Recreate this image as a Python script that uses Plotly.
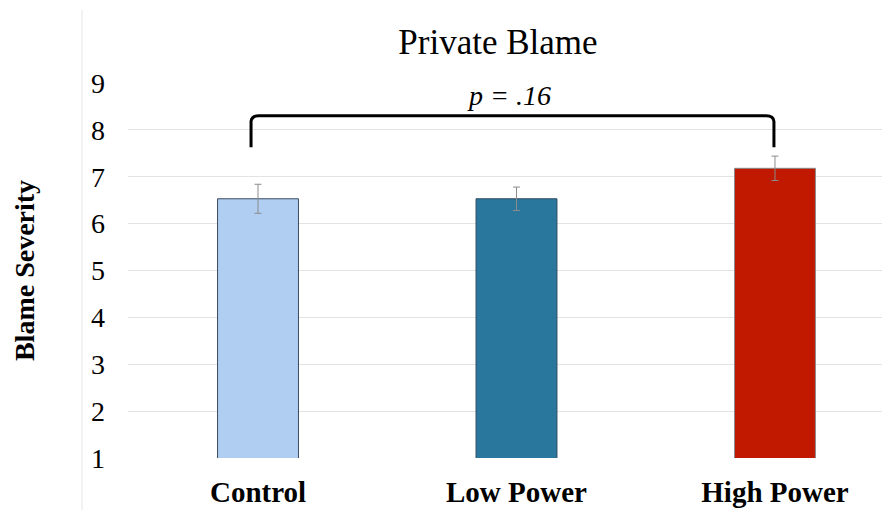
import plotly.graph_objects as go

categories = ["Control", "Low Power", "High Power"]
means = [6.53, 6.53, 7.18]
errors = [0.31, 0.25, 0.26]
bar_colors = ["#AFCEF2", "#2A779E", "#C01900"]
bar_lines = ["#3B4A5E", "#2F4A5E", "#8A8A8A"]
y_ticks = [1, 2, 3, 4, 5, 6, 7, 8, 9]
title_text = "Private Blame"
y_title = "Blame Severity"
p_text = "<i>p = .16</i>"

SERIF = "Liberation Serif, Times New Roman, serif"

# the page adds an 8px body margin, so the figure is drawn 8px smaller
W, H = 882, 502

fig = go.Figure()
fig.add_trace(go.Bar(
    x=categories,
    y=means,
    width=0.313,
    marker=dict(color=bar_colors, line=dict(color=bar_lines, width=1)),
    error_y=dict(type="data", array=errors, visible=True,
                 color="#8C8C8C", thickness=1, width=3.5),
    showlegend=False,
))

# significance bracket between Control and High Power
i0, i1 = 0, 2
leg_y = max(means[i] + errors[i] for i in (i0, i1)) + 0.19
top_y = leg_y + 0.67
x0, x1 = i0 - 0.027, i1 - 0.004
path = (f"M {x0},{leg_y} L {x0},{top_y-0.12} Q {x0+0.002},{top_y} {x0+0.03},{top_y} "
        f"L {x1-0.03},{top_y} Q {x1-0.002},{top_y} {x1},{top_y-0.12} L {x1},{leg_y}")
fig.add_shape(type="path", path=path, xref="x", yref="y",
              line=dict(color="black", width=3))
fig.add_annotation(x=(i0 + i1) / 2 - 0.03, y=top_y + 0.44, xref="x", yref="y",
                   text=p_text, showarrow=False,
                   font=dict(family=SERIF, size=28, color="black"))

# faint container edge line on the left
fig.add_shape(type="line", xref="paper", yref="paper",
              x0=-0.0604, x1=-0.0604, y0=-0.139, y1=1.195,
              line=dict(color="#E6E6E6", width=1))

fig.update_layout(
    width=W, height=H,
    margin=dict(l=120, r=0, t=75, b=52, autoexpand=False),
    paper_bgcolor="white", plot_bgcolor="white",
    title=dict(text=title_text, x=490 / W, xanchor="center",
               y=1 - 34 / H, yanchor="middle", yref="container",
               font=dict(family=SERIF, size=35, color="black")),
    bargap=0.5,
)
fig.update_xaxes(
    range=[-0.503, 2.445], automargin=False,
    showgrid=False, zeroline=False, showline=False,
    tickfont=dict(family=SERIF, size=29, color="black", weight="bold"),
    ticks="outside", ticklen=0, ticklabelstandoff=8,
)
fig.update_yaxes(
    range=[1, 9], tickvals=y_ticks, automargin=False,
    showgrid=True, gridcolor="#E3E3E3", gridwidth=1,
    zeroline=False, showline=False,
    tickfont=dict(family=SERIF, size=28, color="black"),
    ticklabelstandoff=22,
    title=dict(text=y_title, standoff=48,
               font=dict(family=SERIF, size=28, color="black", weight="bold")),
)

fig.write_html("out.html")
